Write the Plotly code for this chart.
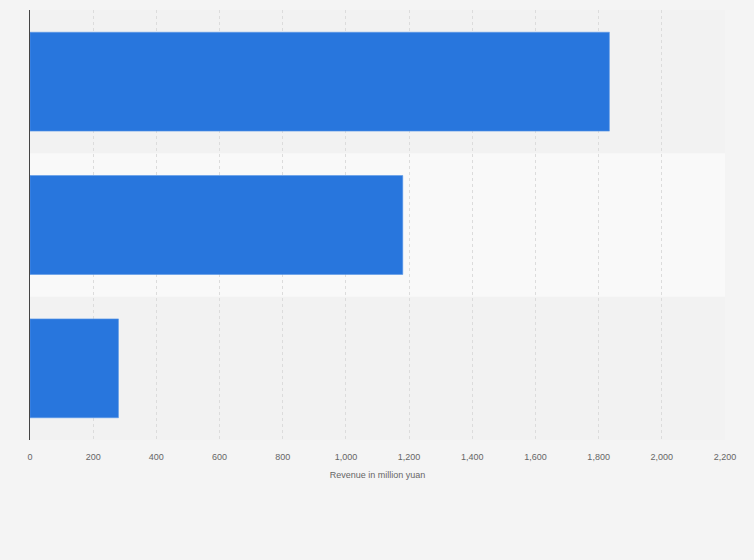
import plotly.graph_objects as go

# Categories (labels not shown in the reference), top to bottom
categories = ["Category 1", "Category 2", "Category 3"]
revenue = [1834, 1180, 280]
x_ticks = list(range(0, 2201, 200))
x_tick_labels = [f"{v:,}" for v in x_ticks]

fig = go.Figure()

fig.add_trace(go.Bar(
    x=revenue,
    y=categories,
    orientation="h",
    marker=dict(color="#2876dd", line=dict(color="#5b98e8", width=0.6)),
    width=0.69,
    hoverinfo="x",
))

# lighter alternating band behind the middle category
fig.add_shape(
    type="rect", xref="paper", yref="y",
    x0=0, x1=1, y0=0.5, y1=1.5,
    fillcolor="#f9f9f9", line=dict(width=0), layer="below",
)

fig.update_layout(
    width=754, height=560,
    margin=dict(l=30, r=29, t=10, b=120),
    paper_bgcolor="#f4f4f4",
    plot_bgcolor="#f2f2f2",
    showlegend=False,
    bargap=0.3,
    font=dict(family="Liberation Sans, Arial, sans-serif", color="#666666"),
)

fig.update_xaxes(
    range=[0, 2200],
    tickvals=x_ticks,
    ticktext=x_tick_labels,
    tickfont=dict(size=9, color="#666666"),
    showgrid=True,
    gridcolor="#dcdcdc",
    griddash="dot",
    gridwidth=1,
    zeroline=False,
    showline=False,
    ticks="",
    ticklabelstandoff=10,
    title=dict(text="Revenue in million yuan", font=dict(size=9, color="#666666"), standoff=10),
)

fig.update_yaxes(
    categoryorder="array",
    categoryarray=categories[::-1],
    showticklabels=False,
    showgrid=False,
    zeroline=False,
    showline=True,
    linecolor="#444444",
    linewidth=1,
    ticks="",
)

fig.write_html(
    "out.html",
    config={"displayModeBar": False},
    post_script="document.body.style.margin='0';document.body.style.background='#f4f4f4';",
)
